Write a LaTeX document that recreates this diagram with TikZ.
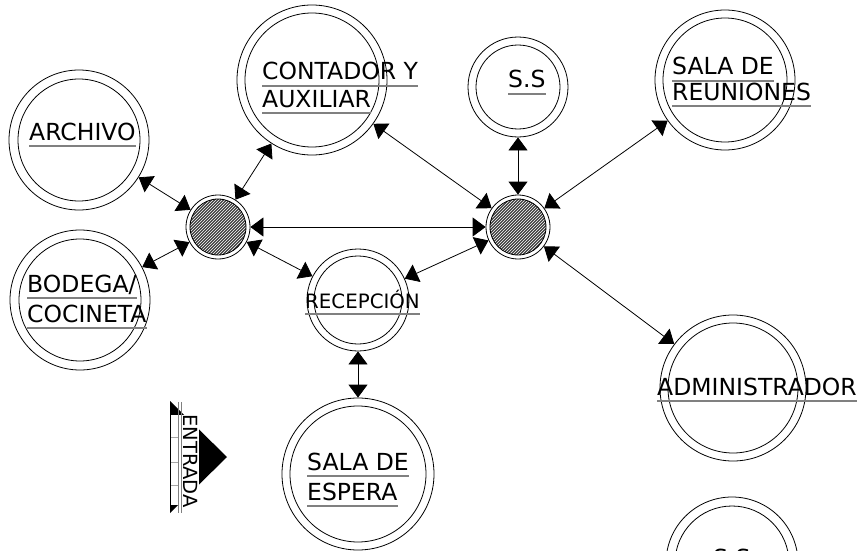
\documentclass[tikz,border=0pt]{standalone}
\usepackage{fontspec}
\setmainfont{DejaVu Sans}
\usetikzlibrary{arrows.meta,patterns}
\newcommand\ulin[1]{\draw[uline] ([yshift=-6pt]#1.base west) -- ([yshift=-6pt]#1.base east);}
\begin{document}
\begin{tikzpicture}[x=1pt,y=-1pt,
  room/.style={circle,draw,line width=0.8pt,inner sep=0pt},
  ring/.style={line width=0.8pt},
  lbl/.style={inner sep=0pt,anchor=base west,font=\fontsize{23.5}{28}\selectfont},
  slbl/.style={inner sep=0pt,anchor=base west,font=\fontsize{19.8}{24}\selectfont},
  uline/.style={draw=gray,line width=1.4pt},
  conn/.style={line width=0.8pt,{Triangle[length=13pt,width=19pt]}-{Triangle[length=13pt,width=19pt]}},
]
\useasboundingbox (0,0) rectangle (863,551);
\clip (0,0) rectangle (863,551);
\fill[white] (0,0) rectangle (863,551);
% rooms
\node[room,minimum size=140pt] (archivo) at (79,140) {};
\draw[ring] (archivo.center) circle (61pt);
\node[room,minimum size=140pt] (bodega) at (80,300) {};
\draw[ring] (bodega.center) circle (61pt);
\node[room,minimum size=150pt] (contador) at (312,80) {};
\draw[ring] (contador.center) circle (67pt);
\node[room,minimum size=100pt] (ssA) at (518,87) {};
\draw[ring] (ssA.center) circle (42pt);
\node[room,minimum size=140pt] (reuniones) at (725,80) {};
\draw[ring] (reuniones.center) circle (62pt);
\node[room,minimum size=102pt] (recep) at (358,300) {};
\draw[ring] (recep.center) circle (44pt);
\node[room,minimum size=152pt] (espera) at (358,474) {};
\draw[ring] (espera.center) circle (68pt);
\node[room,minimum size=146pt] (admin) at (733,388) {};
\draw[ring] (admin.center) circle (65pt);
\node[room,minimum size=132pt] (ssB) at (732,563) {};
\draw[ring] (ssB.center) circle (57pt);
% hubs
\foreach \h/\p in {hubL/{(218,227)},hubR/{(518,227)}}{
  \node[room,minimum size=64pt] (\h) at \p {};
  \fill[black!75] (\h.center) circle (28pt);
  \fill[pattern=north east lines,pattern color=white] (\h.center) circle (28pt);
  \draw[ring] (\h.center) circle (28pt);
}
% labels
\node[lbl] (t1) at (29,140) {ARCHIVO}; \ulin{t1}
\node[lbl] (t2) at (27,292) {BODEGA/}; \ulin{t2}
\node[lbl] (t3) at (27,322) {COCINETA}; \ulin{t3}
\node[lbl] (t4) at (262,80) {CONTADOR Y}; \ulin{t4}
\node[lbl] (t5) at (262,107) {AUXILIAR}; \ulin{t5}
\node[lbl] (t6) at (508,88) {S.S}; \ulin{t6}
\node[lbl] (t7) at (672,75) {SALA DE}; \ulin{t7}
\node[lbl] (t8) at (672,100) {REUNIONES}; \ulin{t8}
\node[slbl] (t9) at (305,308) {RECEPCIÓN}; \ulin{t9}
\node[lbl] (t10) at (657,395) {ADMINISTRADOR}; \ulin{t10}
\node[lbl] (t11) at (307,470) {SALA DE}; \ulin{t11}
\node[lbl] (t12) at (307,500) {ESPERA}; \ulin{t12}
\node[lbl] (t13) at (713,566) {S.S};
% entrada
\fill[black] (170,401) -- (170,513) -- (227,457) -- cycle;
\fill[white] (171,415) rectangle (199,505);
\draw[gray!70,line width=0.4pt] (171,437) -- (178,437) (171,462) -- (178,462) (171,485) -- (178,485);
\draw[gray,line width=0.8pt] (178,402) -- (178,513) (181,402) -- (181,513);
\node[inner sep=0pt,rotate=-90,font=\fontsize{19.5}{23}\selectfont] (entrada) at (190.5,461) {ENTRADA};
% connectors
\draw[conn] (hubL) -- (archivo);
\draw[conn] (hubL) -- (bodega);
\draw[conn] (hubL) -- (contador);
\draw[conn] (hubL) -- (hubR);
\draw[conn] (hubL) -- (recep);
\draw[conn] (hubR) -- (contador);
\draw[conn] (hubR) -- (ssA);
\draw[conn] (hubR) -- (reuniones);
\draw[conn] (hubR) -- (recep);
\draw[conn] (hubR) -- (admin);
\draw[conn] (recep) -- (espera);
\end{tikzpicture}
\end{document}
